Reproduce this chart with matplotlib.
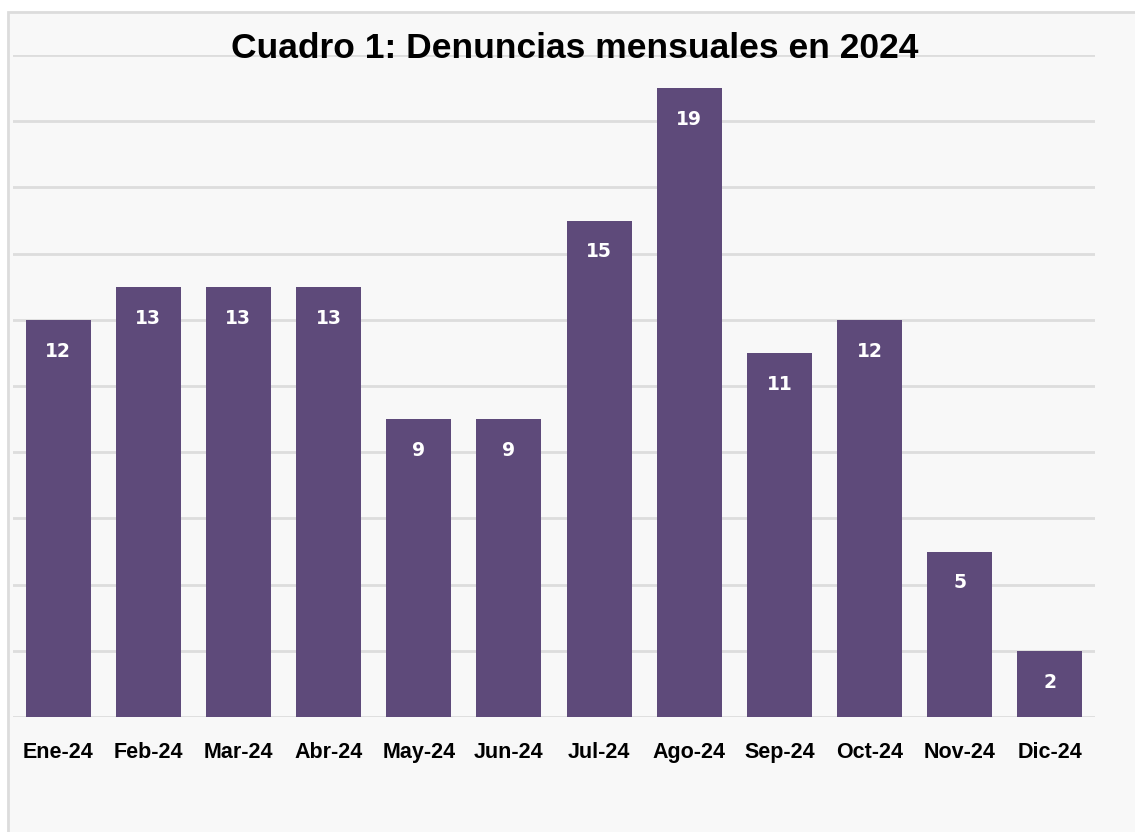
import matplotlib.pyplot as plt
from matplotlib.patches import Rectangle

meses = ["Ene-24", "Feb-24", "Mar-24", "Abr-24", "May-24", "Jun-24",
         "Jul-24", "Ago-24", "Sep-24", "Oct-24", "Nov-24", "Dic-24"]
denuncias = [12, 13, 13, 13, 9, 9, 15, 19, 11, 12, 5, 2]

plt.rcParams['font.family'] = ['Liberation Sans', 'DejaVu Sans']

fig = plt.figure(figsize=(11.35, 8.32), dpi=100, facecolor='white')
# marco gris claro (sin borde derecho ni inferior visibles)
fig.patches.append(Rectangle((8 / 1135, -0.01), 1.05, 1.01 - 12 / 832,
                             transform=fig.transFigure, facecolor='#f8f8f8',
                             edgecolor='#dcdcdc', linewidth=2, zorder=-1))

ax = fig.add_axes([13 / 1135, 115 / 832, 1082 / 1135, 662 / 832])
ax.set_facecolor('none')

x = range(len(meses))
ax.bar(x, denuncias, width=0.72, color='#5e4a7a', zorder=3)

for xi, v in zip(x, denuncias):
    ax.text(xi, v - 0.95, str(v), ha='center', va='center', color='white',
            fontsize=13.5, fontweight='bold', family='DejaVu Sans', zorder=4)

ax.set_xlim(-0.5, 11.5)
ax.set_ylim(0, 20)
ax.set_yticks(range(0, 21, 2))
ax.yaxis.grid(True, color='#dddddd', linewidth=2, zorder=0)
ax.tick_params(axis='y', left=False, labelleft=False)
ax.tick_params(axis='x', length=0, pad=18)
ax.set_xticks(list(x))
ax.set_xticklabels(meses, fontsize=15.5, fontweight='bold')
for s in ax.spines.values():
    s.set_visible(False)

fig.text(575 / 1135, 1 - 48 / 832, "Cuadro 1: Denuncias mensuales en 2024",
         ha='center', va='center', fontsize=25.5, fontweight='bold')

fig.savefig('out.png', dpi=100)
